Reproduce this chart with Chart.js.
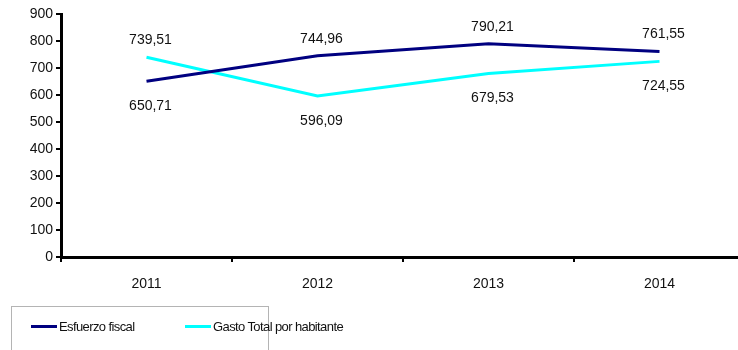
<!DOCTYPE html>
<html>
<head>
<meta charset="utf-8">
<script src="https://cdn.jsdelivr.net/npm/chart.js@4"></script>
<style>
  html, body { margin: 0; padding: 0; background: #fff; overflow: hidden; }
  #wrap { position: relative; width: 738px; height: 350px; overflow: hidden; }
  #box { position: absolute; left: 0; top: 0; width: 760px; height: 350px; }
  #legend {
    position: absolute; left: 11px; top: 306px; width: 258px; height: 60px;
    border: 1px solid #b4b4b4; box-sizing: border-box;
    font-family: "Liberation Sans", Arial, sans-serif; font-size: 13px; color: #111;
    letter-spacing: -0.6px;
  }
  .item { position: absolute; top: 12px; display: flex; align-items: center; white-space: nowrap; }
  .swatch { display: inline-block; width: 26px; height: 3px; margin-right: 2px; }
</style>
</head>
<body>
<div id="wrap">
  <div id="box"><canvas id="c" width="760" height="350"></canvas></div>
  <div id="legend"></div>
</div>
<script>
const years = ['2011', '2012', '2013', '2014'];
const esfuerzoFiscal = [650.71, 744.96, 790.21, 761.55];
const gastoPorHabitante = [739.51, 596.09, 679.53, 724.55];
const seriesNames = ['Esfuerzo fiscal', 'Gasto Total por habitante'];
const seriesColors = ['#000080', '#00ffff'];

const FONT = '"Liberation Sans", Arial, sans-serif';

// Value labels: the higher of the two series at a year goes above its point, the lower one below.
const valueLabels = {
  id: 'valueLabels',
  afterDatasetsDraw(chart) {
    const ctx = chart.ctx;
    ctx.save();
    ctx.font = '14px ' + FONT;
    ctx.fillStyle = '#111';
    ctx.textAlign = 'center';
    ctx.textBaseline = 'middle';
    const metas = chart.data.datasets.map((d, i) => chart.getDatasetMeta(i));
    years.forEach((y, idx) => {
      const vals = chart.data.datasets.map(d => d.data[idx]);
      const maxV = Math.max(...vals);
      metas.forEach((meta, di) => {
        const pt = meta.data[idx];
        const v = vals[di];
        const txt = v.toFixed(2).replace('.', ',');
        const above = v === maxV;
        ctx.fillText(txt, pt.x + 4, above ? pt.y - 17 : pt.y + 25);
      });
    });
    ctx.restore();
  }
};

new Chart(document.getElementById('c'), {
  type: 'line',
  data: {
    labels: years,
    datasets: [
      { label: seriesNames[0], data: esfuerzoFiscal, borderColor: seriesColors[0], backgroundColor: seriesColors[0],
        borderWidth: 3, pointRadius: 0, tension: 0 },
      { label: seriesNames[1], data: gastoPorHabitante, borderColor: seriesColors[1], backgroundColor: seriesColors[1],
        borderWidth: 3, pointRadius: 0, tension: 0 }
    ]
  },
  options: {
    responsive: false,
    animation: false,
    events: [],
    layout: { padding: { top: 14, right: 15, left: 0, bottom: 0 } },
    plugins: { legend: { display: false }, tooltip: { enabled: false } },
    scales: {
      x: {
        offset: true,
        grid: { offset: true, drawOnChartArea: false, color: '#000', tickColor: '#000', tickLength: 5, lineWidth: 2 },
        border: { color: '#000', width: 3 },
        ticks: { color: '#111', font: { family: FONT, size: 14 }, padding: 14, maxRotation: 0 },
        afterFit(s) { s.height = 93; }
      },
      y: {
        min: 0, max: 900,
        grid: { drawOnChartArea: false, color: '#000', tickColor: '#000', tickLength: 5, lineWidth: 2 },
        border: { color: '#000', width: 3 },
        ticks: { stepSize: 100, color: '#111', font: { family: FONT, size: 14 }, padding: 3 },
        afterFit(s) { s.width = 61; }
      }
    }
  },
  plugins: [valueLabels]
});

// Legend entries
const legend = document.getElementById('legend');
const lefts = [19, 173];
seriesNames.forEach((name, i) => {
  const it = document.createElement('div');
  it.className = 'item';
  it.style.left = lefts[i] + 'px';
  const sw = document.createElement('span');
  sw.className = 'swatch';
  sw.style.background = seriesColors[i];
  const t = document.createElement('span');
  t.textContent = name;
  it.appendChild(sw);
  it.appendChild(t);
  legend.appendChild(it);
});
</script>
</body>
</html>
